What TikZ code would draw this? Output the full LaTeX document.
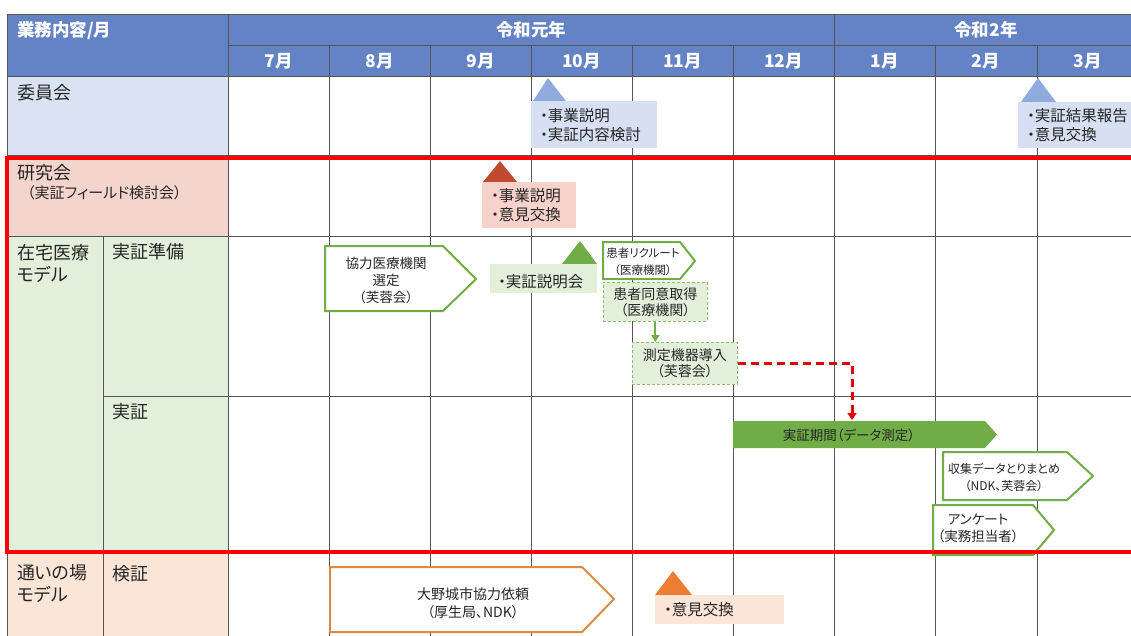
\documentclass[tikz,border=0pt]{standalone}
\usepackage{fontspec}
\setmainfont{Noto Sans CJK JP}[RawFeature=+palt]
\usetikzlibrary{arrows.meta}
\definecolor{hdr}{RGB}{100,131,196}
\definecolor{gridc}{RGB}{85,85,85}
\definecolor{txt}{RGB}{38,38,38}
\definecolor{cblue}{RGB}{218,227,243}
\definecolor{cpink}{RGB}{243,213,205}
\definecolor{cgreen}{RGB}{226,239,218}
\definecolor{cpeach}{RGB}{251,229,214}
\definecolor{tblue}{RGB}{143,170,220}
\definecolor{bblue}{RGB}{214,224,242}
\definecolor{tred}{RGB}{192,74,48}
\definecolor{bpink}{RGB}{246,210,202}
\definecolor{grn}{RGB}{112,173,71}
\definecolor{grnd}{RGB}{140,190,110}
\definecolor{torg}{RGB}{237,125,49}
\definecolor{borg}{RGB}{220,138,70}
\definecolor{redl}{RGB}{255,0,0}
\definecolor{reda}{RGB}{226,0,0}
\begin{document}
\begin{tikzpicture}[x=1pt,y=-1pt,
  gridline/.style={draw=gridc, line width=1pt},
  hdrtxt/.style={text=white, font=\fontsize{17.5}{20}\selectfont\bfseries, inner sep=0pt},
  lbl/.style={anchor=west, align=left, text=txt, font=\fontsize{18}{22}\selectfont, inner sep=0pt},
  callout/.style={anchor=north west, inner xsep=9pt, inner ysep=0pt, align=left, text=txt, font=\fontsize{15.5}{19}\selectfont},
  boxtxt/.style={align=center, text=txt, font=\fontsize{13.5}{17}\selectfont, inner sep=0pt},
  gpent/.style={draw=grn, line width=2pt, fill=white},
  opent/.style={draw=borg, line width=2pt, fill=white},
  dbox/.style={anchor=north west, draw=grnd, dash pattern=on 3pt off 2pt, line width=0.8pt, fill=cgreen, align=center, text=txt, font=\fontsize{14}{16}\selectfont, inner sep=0pt}
]
\useasboundingbox (0,0) rectangle (1131,635);
\clip (0,0) rectangle (1131,635);
% fills
\fill[hdr] (7,14) rectangle (1140,76);
\fill[cblue] (7,76) rectangle (228,155);
\fill[cpink] (7,155) rectangle (228,236);
\fill[cgreen] (7,236) rectangle (228,553);
\fill[cpeach] (7,553) rectangle (228,640);
% grid
\foreach \yy in {14,76,155,236,553} \draw[gridline] (7,\yy) -- (1140,\yy);
\draw[gridline] (228,45) -- (1140,45);
\draw[gridline] (103,396) -- (1140,396);
\foreach \xx in {7,228,834} \draw[gridline] (\xx,14) -- (\xx,640);
\foreach \xx in {329,430,531,632,733,935,1037} \draw[gridline] (\xx,45) -- (\xx,640);
\draw[gridline] (103,236) -- (103,640);
% header text
\node[hdrtxt, anchor=west] (h0) at (17,31) {業務内容/月};
\node[hdrtxt] (y1) at (531,30) {令和元年};
\node[hdrtxt] (y2) at (986,30) {令和2年};
\foreach \c/\m [count=\i] in {278.5/7月,379.5/8月,480.5/9月,581.5/10月,682.5/11月,783.5/12月,884.5/1月,986/2月,1087.5/3月}
  \node[hdrtxt] (mon\i) at (\c,61) {\m};
% left labels
\node[lbl] (iin) at (17,93) {委員会};
\node[lbl] (ken) at (17,173) {研究会};
\node[lbl, font=\fontsize{15}{18}\selectfont] (kensub) at (27,193) {（実証フィールド検討会）};
\node[lbl] (zaitaku) at (17,263) {在宅医療\\モデル};
\node[lbl] (junbi) at (112,252) {実証準備};
\node[lbl] (jissho) at (112,412) {実証};
\node[lbl] (kayoi) at (17,584) {通いの場\\モデル};
\node[lbl] (kensho) at (112,574) {検証};
% callouts
\fill[tblue] (533,101) -- (548,78) -- (566,101) -- cycle;
\node[callout, fill=bblue, text width=108pt, minimum height=47pt] (c1) at (531,101) {・事業説明\\・実証内容検討};
\fill[tblue] (1021,102) -- (1038,78) -- (1056,102) -- cycle;
\node[callout, fill=bblue, text width=110pt, minimum height=46pt] (c2) at (1018,102) {・実証結果報告\\・意見交換};
\fill[tred] (483,182) -- (500,161) -- (517,182) -- cycle;
\node[callout, fill=bpink, text width=76pt, minimum height=46pt] (c3) at (482,182) {・事業説明\\・意見交換};
\fill[grn] (562,264) -- (580,241) -- (597,264) -- cycle;
\node[callout, fill=cgreen, text width=91pt, minimum height=29pt, inner xsep=8pt] (c4) at (490,264) {\hspace{8pt}・実証説明会};
\fill[torg] (655,595) -- (673,571) -- (692,595) -- cycle;
\node[callout, fill=cpeach, text width=111pt, minimum height=29pt] (c5) at (655,595) {・意見交換};
% pentagon boxes
\draw[gpent] (325,246) -- (443,246) -- (476,279) -- (443,311) -- (325,311) -- cycle;
\node[boxtxt] (kyoryoku) at (386,280) {協力医療機関\\選定\\（芙蓉会）};
\draw[gpent] (603,242) -- (680,242) -- (695,261) -- (680,279) -- (603,279) -- cycle;
\node[boxtxt, font=\fontsize{11.5}{17}\selectfont] (recruit) at (643,262) {患者リクルート\\（医療機関）};
\node[dbox, minimum width=104pt, minimum height=39pt] (consent) at (603,282) {患者同意取得\\（医療機関）};
\node[dbox, minimum width=105pt, minimum height=42pt] (measure) at (632,342) {測定機器導入\\（芙蓉会）};
\draw[grn, line width=2pt, -{Triangle[length=7pt,width=8pt]}] (consent.south) -- (consent.south |- measure.north);
\fill[grn] (733,421) -- (985,421) -- (997,434.5) -- (985,448) -- (733,448) -- cycle;
\node[boxtxt] (period) at (849,435) {実証期間（データ測定）};
\coordinate (ptop) at (852,420);
\draw[reda, line width=3pt, dash pattern=on 8pt off 5pt, -{Triangle[length=7pt,width=9pt]}] (measure.east) -| (ptop);
\draw[gpent] (943,452) -- (1067,452) -- (1093,476) -- (1067,500) -- (943,500) -- cycle;
\node[boxtxt, font=\fontsize{12}{17}\selectfont] (collect) at (1004,477) {収集データとりまとめ\\（NDK、芙蓉会）};
\draw[gpent] (933,505) -- (1033,505) -- (1054,530) -- (1033,555) -- (933,555) -- cycle;
\node[boxtxt] (survey) at (978,528) {アンケート\\（実務担当者）};
\draw[opent] (330,567) -- (582,567) -- (614,599) -- (582,632) -- (330,632) -- cycle;
\node[boxtxt, font=\fontsize{14}{18}\selectfont] (onojo) at (473,603) {大野城市協力依頼\\（厚生局、NDK）};
% red frame
\draw[redl, line width=4pt] (7,158) rectangle (1145,552);
\end{tikzpicture}
\end{document}
